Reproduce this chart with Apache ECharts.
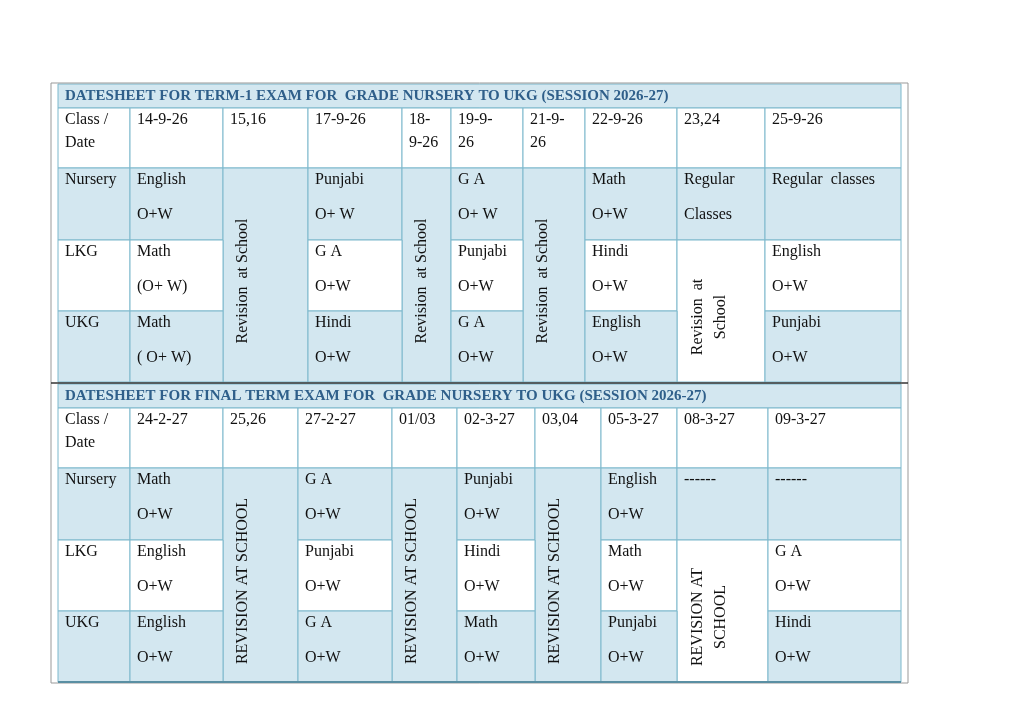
<!DOCTYPE html>
<html>
<head>
<meta charset="utf-8">
<script src="https://cdn.jsdelivr.net/npm/echarts@6/dist/echarts.min.js"></script>
<style>html,body{margin:0;background:#fff}#chart{width:1024px;height:724px}</style>
</head>
<body>
<div id="chart"></div>
<script>
// ---- data ----
const REV1 = 'Revision  at School'
const REV1B = 'Revision  at\nSchool'
const REV2 = 'REVISION AT SCHOOL'
const REV2B = 'REVISION AT\nSCHOOL'

const term1Title = 'DATESHEET FOR TERM-1 EXAM FOR  GRADE NURSERY TO UKG (SESSION 2026-27)'
const term1Dates = ['Class /\nDate', '14-9-26', '15,16', '17-9-26', '18-\n9-26', '19-9-\n26', '21-9-\n26', '22-9-26', '23,24', '25-9-26']
const term1Nursery = ['Nursery', 'English\nO+W', REV1, 'Punjabi\nO+ W', REV1, 'G A\nO+ W', REV1, 'Math\nO+W', 'Regular\nClasses', 'Regular  classes']
const term1LKG = ['LKG', 'Math\n(O+ W)', null, 'G A\nO+W', null, 'Punjabi\nO+W', null, 'Hindi\nO+W', REV1B, 'English\nO+W']
const term1UKG = ['UKG', 'Math\n( O+ W)', null, 'Hindi\nO+W', null, 'G A\nO+W', null, 'English\nO+W', null, 'Punjabi\nO+W']

const finalTitle = 'DATESHEET FOR FINAL TERM EXAM FOR  GRADE NURSERY TO UKG (SESSION 2026-27)'
const finalDates = ['Class /\nDate', '24-2-27', '25,26', '27-2-27', '01/03', '02-3-27', '03,04', '05-3-27', '08-3-27', '09-3-27']
const finalNursery = ['Nursery', 'Math\nO+W', REV2, 'G A\nO+W', REV2, 'Punjabi\nO+W', REV2, 'English\nO+W', '------', '------']
const finalLKG = ['LKG', 'English\nO+W', null, 'Punjabi\nO+W', null, 'Hindi\nO+W', null, 'Math\nO+W', REV2B, 'G A\nO+W']
const finalUKG = ['UKG', 'English\nO+W', null, 'G A\nO+W', null, 'Math\nO+W', null, 'Punjabi\nO+W', null, 'Hindi\nO+W']

// ---- layout ----
const term1Cols = [58, 130, 223, 308, 402, 451, 523, 585, 677, 765, 901]
const term1Rows = [84, 108, 168, 240, 311, 382]
const finalCols = [58, 130, 223, 298, 392, 457, 535, 601, 677, 768, 901]
const finalRows = [384, 408, 468, 540, 611, 682]

const BLUE = '#d3e7f0'
const LINE = '#7db8cc'

const cells = []
const buildTable = (title, dates, rows, cols, edges) => {
  cells.push({ x0: cols[0], x1: cols[cols.length - 1], y0: edges[0], y1: edges[1], text: title, fill: BLUE, title: true })
  dates.forEach((t, i) => cells.push({ x0: cols[i], x1: cols[i + 1], y0: edges[1], y1: edges[2], text: t, fill: '#fff', lh: 23 }))
  rows.forEach((row, r) => {
    row.forEach((t, c) => {
      if (t === null) return
      const vertical = t === REV1 || t === REV1B || t === REV2 || t === REV2B
      let span = 1
      while (vertical && r + span < rows.length && rows[r + span][c] === null) span++
      const fill = (vertical && span === 2) ? '#fff' : (r % 2 === 0 ? BLUE : '#fff')
      cells.push({ x0: cols[c], x1: cols[c + 1], y0: edges[2 + r], y1: edges[2 + r + span], text: t, fill, lh: 35, vertical })
    })
  })
}
buildTable(term1Title, term1Dates, [term1Nursery, term1LKG, term1UKG], term1Cols, term1Rows)
buildTable(finalTitle, finalDates, [finalNursery, finalLKG, finalUKG], finalCols, finalRows)

const FONT = '"Liberation Serif", "DejaVu Serif", serif'

const renderCell = (params, api) => {
  const c = cells[params.dataIndex]
  const p0 = api.coord([c.x0, c.y0])
  const p1 = api.coord([c.x1, c.y1])
  const children = [{
    type: 'rect',
    shape: { x: p0[0], y: p0[1], width: p1[0] - p0[0], height: p1[1] - p0[1] },
    style: { fill: c.fill, stroke: LINE, lineWidth: 1 }
  }]
  const lines = c.text.split('\n')
  if (c.vertical) {
    children.push({
      type: 'text',
      x: p0[0] + 8 + lines.length * 12,
      y: (p0[1] + p1[1]) / 2 + 6,
      rotation: Math.PI / 2,
      style: { text: c.text, font: '16px ' + FONT, fill: '#111', align: 'center', verticalAlign: 'middle', lineHeight: 23 }
    })
  } else {
    lines.forEach((t, i) => children.push({
      type: 'text',
      x: p0[0] + 7,
      y: p0[1] + 12 + i * (c.lh || 0),
      style: {
        text: t,
        font: c.title ? 'bold 15px ' + FONT : '16px ' + FONT,
        fill: c.title ? '#2f5f8a' : '#111',
        align: 'left',
        verticalAlign: 'middle'
      }
    }))
  }
  return { type: 'group', children }
}

const chart = echarts.init(document.getElementById('chart'))
chart.setOption({
  animation: false,
  grid: { left: 0, right: 0, top: 0, bottom: 0 },
  xAxis: { type: 'value', min: 0, max: 1024, show: false },
  yAxis: { type: 'value', min: 0, max: 724, inverse: true, show: false },
  graphic: [
    { type: 'rect', shape: { x: 51, y: 83, width: 857, height: 600 }, style: { fill: 'none', stroke: '#999', lineWidth: 1 }, z: 10 },
    { type: 'line', shape: { x1: 51, y1: 383, x2: 908, y2: 383 }, style: { stroke: '#333', lineWidth: 1.5 }, z: 10 },
    { type: 'line', shape: { x1: 58, y1: 682, x2: 901, y2: 682 }, style: { stroke: '#5a8fa3', lineWidth: 2 }, z: 10 }
  ],
  series: [{
    type: 'custom',
    renderItem: renderCell,
    data: cells.map(c => [c.x0, c.y0, c.x1, c.y1])
  }]
})
</script>
</body>
</html>
